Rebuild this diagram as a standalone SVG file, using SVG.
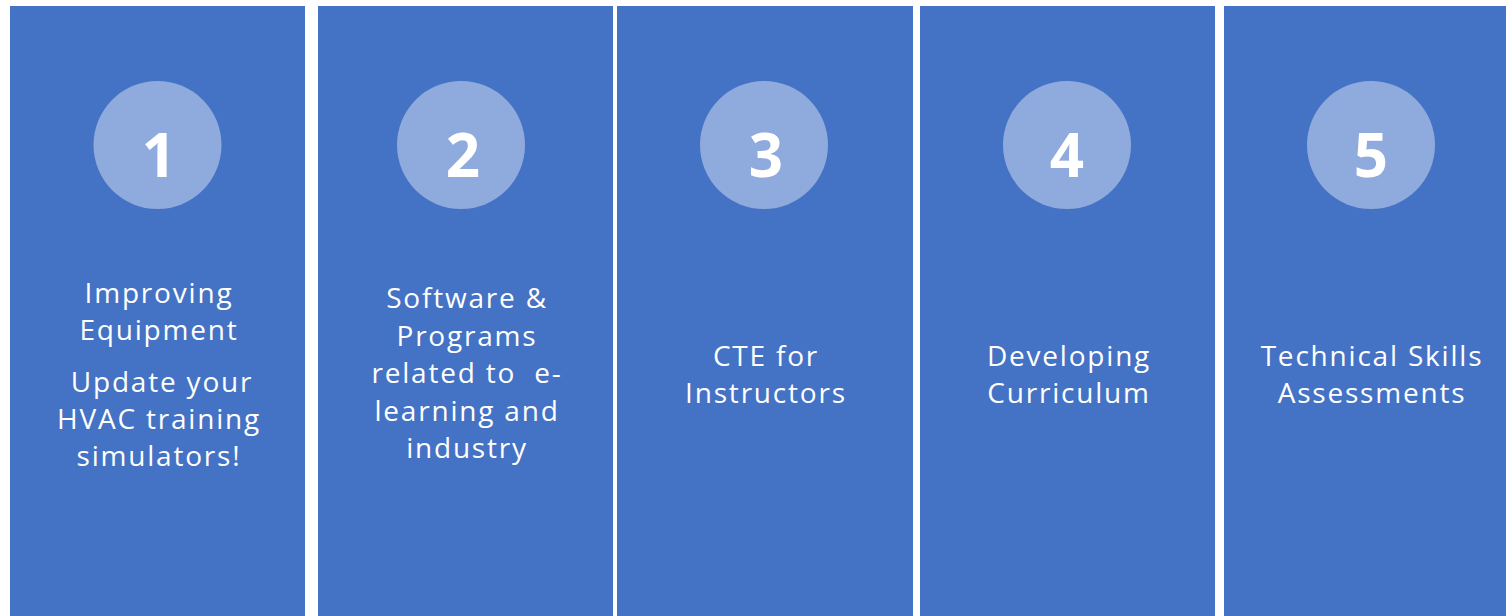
<svg xmlns="http://www.w3.org/2000/svg" width="1506" height="616" viewBox="0 0 1506 616">
<style>
.panel{fill:#4472C4}
.circ{fill:#8FAADC}
.num{font-family:"Open Sans",sans-serif;font-weight:700;font-size:60px;fill:#FFFFFF;text-anchor:middle}
.lbl{font-family:"Open Sans",sans-serif;font-size:28px;fill:#FFFFFF;text-anchor:middle;letter-spacing:1.8px}
</style>
<rect width="1506" height="616" fill="#FFFFFF"/>
<g id="node1">
<rect class="panel" x="10" y="6" width="295" height="610"/>
<circle class="circ" cx="157.5" cy="145" r="64"/>
<text class="num" x="159" y="177">1</text>
<text class="lbl" x="159" y="303">Improving</text>
<text class="lbl" x="159" y="340">Equipment</text>
<text class="lbl" x="162" y="392">Update your</text>
<text class="lbl" x="159" y="429">HVAC training</text>
<text class="lbl" x="159" y="466">simulators!</text>
</g>
<g id="node2">
<rect class="panel" x="318" y="6" width="295" height="610"/>
<circle class="circ" cx="461" cy="145" r="64"/>
<text class="num" x="463" y="177">2</text>
<text class="lbl" x="467" y="308">Software &amp;</text>
<text class="lbl" x="467" y="346">Programs</text>
<text class="lbl" x="467" y="383" xml:space="preserve">related to  e-</text>
<text class="lbl" x="467" y="421">learning and</text>
<text class="lbl" x="467" y="458">industry</text>
</g>
<g id="node3">
<rect class="panel" x="617" y="6" width="296" height="610"/>
<circle class="circ" cx="764" cy="145" r="64"/>
<text class="num" x="766" y="177">3</text>
<text class="lbl" x="766" y="366">CTE for</text>
<text class="lbl" x="766" y="403">Instructors</text>
</g>
<g id="node4">
<rect class="panel" x="920" y="6" width="295" height="610"/>
<circle class="circ" cx="1067" cy="145" r="64"/>
<text class="num" x="1067" y="177">4</text>
<text class="lbl" x="1069" y="366">Developing</text>
<text class="lbl" x="1069" y="403">Curriculum</text>
</g>
<g id="node5">
<rect class="panel" x="1224" y="6" width="282" height="610"/>
<circle class="circ" cx="1371" cy="145" r="64"/>
<text class="num" x="1371" y="177">5</text>
<text class="lbl" x="1372" y="366">Technical Skills</text>
<text class="lbl" x="1372" y="403">Assessments</text>
</g>
<g id="connectors"></g>
</svg>
